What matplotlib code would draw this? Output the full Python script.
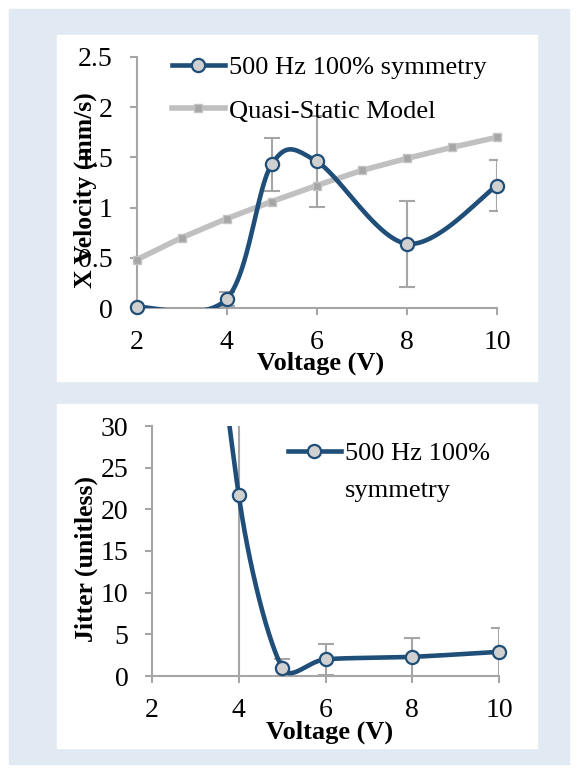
import numpy as np
import matplotlib.pyplot as plt
from matplotlib.patches import Rectangle
from matplotlib.lines import Line2D
from matplotlib.ticker import FuncFormatter

plt.rcParams['font.family'] = ['Liberation Serif', 'DejaVu Serif']

# data
volt = [2, 4, 5, 6, 8, 10]
vel = [0.01, 0.09, 1.43, 1.46, 0.64, 1.22]
vel_err = [0.0, 0.07, 0.26, 0.45, 0.43, 0.25]

model_volt = [2, 3, 4, 5, 6, 7, 8, 9, 10]
model_vel = [0.48, 0.70, 0.89, 1.06, 1.22, 1.37, 1.49, 1.60, 1.70]

jitter = [110, 21.7, 1.0, 2.0, 2.3, 2.9]
jitter_err = [0, 40, 1.1, 1.9, 2.3, 2.9]

BLUE = '#1f4e79'
GREY = '#a6a6a6'


def smooth(x, y, sx, sy, n=60, k=10.0):
    # Excel style smoothed line (Catmull-Rom bezier) in screen units,
    # control arms limited to a share of the chord so steep jumps do not kink
    p = np.column_stack([np.asarray(x, float) * sx, np.asarray(y, float) * sy])
    p = np.vstack([p[0], p, p[-1]])
    t = np.linspace(0, 1, n)[:, None]
    segs = []
    for i in range(1, len(p) - 2):
        p0, p1, p2, p3 = p[i - 1], p[i], p[i + 1], p[i + 2]
        chord = np.hypot(*(p2 - p1))
        a1 = (p2 - p0) / 6
        a2 = (p3 - p1) / 6
        for a in (a1, a2):
            L = np.hypot(*a)
            if L > k * chord:
                a *= k * chord / L
        c1 = p1 + a1
        c2 = p2 - a2
        segs.append((1 - t) ** 3 * p1 + 3 * (1 - t) ** 2 * t * c1
                    + 3 * (1 - t) * t ** 2 * c2 + t ** 3 * p2)
    s = np.vstack(segs)
    return s[:, 0] / sx, s[:, 1] / sy


def style_axes(ax):
    for side in ['top', 'right']:
        ax.spines[side].set_visible(False)
    for side in ['left', 'bottom']:
        ax.spines[side].set_color(GREY)
        ax.spines[side].set_linewidth(1.5)
    ax.tick_params(direction='out', length=5, width=1.5, color=GREY, labelsize=20)
    ax.tick_params(axis='x', pad=11)
    ax.tick_params(axis='y', pad=12)
    ax.yaxis.set_major_formatter(FuncFormatter(lambda v, _: f"{v:g}"))
    ax.set_facecolor('none')


fig = plt.figure(figsize=(5.78, 7.73), dpi=100)
W, H = 578, 773


def rect(x0, y0, x1, y1, color):
    fig.patches.append(Rectangle((x0 / W, 1 - y1 / H), (x1 - x0) / W, (y1 - y0) / H,
                                 transform=fig.transFigure, color=color, zorder=-10))


rect(9, 9, 569, 764, '#e1e9f3')
rect(57, 35, 537, 381, 'white')
rect(57, 404, 537, 748, 'white')

marker_kw = dict(marker='o', markersize=9.5, markerfacecolor='#d0d0d0',
                 markeredgecolor=BLUE, markeredgewidth=1.6)
model_kw = dict(color='#c0c0c0', lw=4, marker='s', markersize=5.5,
                markerfacecolor=GREY, markeredgecolor='#c4c4c4')

# ---- top chart: velocity
ax1 = fig.add_axes([136.5 / W, 1 - 308 / H, 360.5 / W, 251 / H])
style_axes(ax1)
ax1.errorbar(volt, vel, yerr=vel_err, fmt='none', ecolor=GREY, elinewidth=1.5,
             capsize=5.5, capthick=1.5, zorder=2)
ax1.plot(model_volt, model_vel, zorder=3, clip_on=False, **model_kw)
sx, sy = smooth(volt, vel, 45, 100)
ax1.plot(sx, sy, color=BLUE, lw=3.3, zorder=4)
ax1.plot(volt, vel, ls='none', zorder=5, clip_on=False, **marker_kw)
ax1.set_xlim(2, 10)
ax1.set_ylim(0, 2.5)
ax1.set_xticks([2, 4, 6, 8, 10])
ax1.set_yticks(np.arange(0, 2.51, 0.5))
ax1.set_xlabel('Voltage (V)', fontsize=19, fontweight='bold')
ax1.set_ylabel('X Velocity (mm/s)', fontsize=18.5, fontweight='bold')
ax1.xaxis.set_label_coords(0.51, -0.172)
ax1.yaxis.set_label_coords(-0.11, 0.47)

h1 = Line2D([], [], color=BLUE, lw=3.3, **marker_kw)
h2 = Line2D([], [], **model_kw)
fig.legend([h1, h2], ['500 Hz 100% symmetry', 'Quasi-Static Model'],
           loc='upper left', bbox_to_anchor=(172 / W, 1 - 56 / H), frameon=False,
           fontsize=19, borderpad=0, borderaxespad=0, handlelength=2.0,
           handletextpad=0.15, labelspacing=0.75)

# ---- bottom chart: jitter
ax2 = fig.add_axes([152 / W, 1 - 676 / H, 347 / W, 250 / H])
style_axes(ax2)
ax2.errorbar(volt, jitter, yerr=jitter_err, fmt='none', ecolor=GREY, elinewidth=1.5,
             capsize=5.5, capthick=1.5, zorder=2)
jx, jy = smooth(volt, jitter, 43.4, 250 / 30, k=0.4)
jline, = ax2.plot(jx, jy, color=BLUE, lw=3.3, zorder=4)
# let the dip below zero show, but cut the line at the top of the plot
jline.set_clip_path(Rectangle((1.5, -3), 9, 33, transform=ax2.transData))
ax2.plot(volt[1:], jitter[1:], ls='none', zorder=5, clip_on=False, **marker_kw)
ax2.set_xlim(2, 10)
ax2.set_ylim(0, 30)
ax2.set_xticks([2, 4, 6, 8, 10])
ax2.set_yticks(np.arange(0, 31, 5))
ax2.set_xlabel('Voltage (V)', fontsize=19, fontweight='bold')
ax2.set_ylabel('Jitter (unitless)', fontsize=18.5, fontweight='bold')
ax2.xaxis.set_label_coords(0.513, -0.178)
ax2.yaxis.set_label_coords(-0.155, 0.47)

blank = Line2D([], [], color='none')
fig.legend([h1, blank], ['500 Hz 100%', 'symmetry'], loc='upper left',
           bbox_to_anchor=(288 / W, 1 - 442 / H), frameon=False, fontsize=19,
           borderpad=0, borderaxespad=0, handlelength=2.0, handletextpad=0.15,
           labelspacing=0.48)

fig.savefig('out.png', dpi=100)
